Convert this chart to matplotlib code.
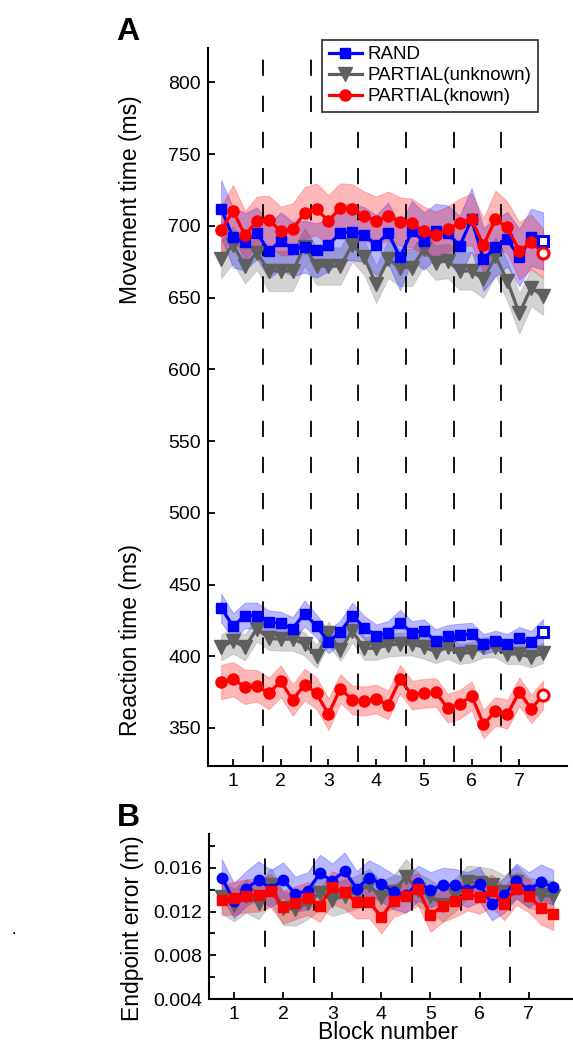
import numpy as np
import matplotlib.pyplot as plt

plt.rcParams['font.family'] = ['Liberation Sans', 'DejaVu Sans']

# 28 trials, 4 per block
trial = np.arange(28)
block_ticks = [1, 5, 9, 13, 17, 21, 25]
block_labels = ['1', '2', '3', '4', '5', '6', '7']
block_edges = [3.5, 7.5, 11.5, 15.5, 19.5, 23.5]

# movement time (ms)
mt_rand = [712, 692, 689, 695, 682.5, 689.5, 684, 685.5, 683, 686.5, 695.3, 696, 694, 686.5,
           695.3, 678, 696.5, 689.5, 696.5, 695.3, 686, 704.6, 676.7, 685, 690.7, 678, 692, 689.5]
mt_unknown = [676.7, 687, 672, 681.4, 668.6, 668.6, 668.6, 685.5, 672, 672, 672, 687, 678, 659.3,
              676.7, 671, 671, 683.7, 674.4, 675.6, 668.6, 668.6, 662.8, 679, 661.6, 639, 657, 651]
mt_known = [697, 710.5, 693.5, 703.5, 704, 696.5, 697.7, 709, 711.6, 703.5, 712.8, 712, 707, 703.5,
            707, 703, 702, 696.5, 694, 697.7, 702, 704.6, 686.5, 704.6, 699, 682.5, 689, 681]
mt_rand_se = [20, 21, 20, 18, 19, 20, 19, 18, 19, 18, 19, 20, 19, 21,
              21, 23, 21, 20, 19, 19, 21, 22, 22, 20, 19, 20, 20, 20]
mt_unknown_se = [13, 13, 12, 12, 14, 14, 14, 13, 13, 13, 13, 12, 12, 13,
                 13, 13, 13, 12, 12, 12, 13, 13, 13, 13, 14, 14, 13, 13]
mt_known_se = [17, 18, 17, 17, 17, 17, 18, 18, 18, 18, 17, 17, 17, 17,
               17, 17, 17, 17, 16, 16, 17, 18, 19, 20, 18, 20, 19, 17]

# reaction time (ms)
rt_rand = [433.7, 421, 428.4, 428.4, 423.9, 423, 419.3, 429.8, 421, 410, 417, 428.4, 420, 414.2,
           416.5, 423.4, 416.5, 417.7, 410.8, 413.8, 414.7, 415.4, 408.5, 410.8, 408.5, 412.4, 409.6, 417]
rt_unknown = [406.2, 410.8, 406.2, 419.3, 412.4, 411.9, 411.9, 408.5, 400, 416, 404.6, 417.7, 405.5, 405.5,
              407.8, 408.5, 408.5, 406.2, 403.2, 406.2, 401.6, 402.8, 406.2, 406.2, 401.6, 401.6, 399.3, 402.3]
rt_known = [382.1, 384, 378.7, 379.4, 374.1, 382.6, 369.5, 380.3, 374.1, 359.6, 377.5, 369.5, 368.8, 370.2,
            366, 384, 373, 374.1, 374.8, 363.8, 366.5, 372.5, 352.7, 361.5, 359.6, 375.2, 363.3, 373]
rt_rand_se = [10, 9, 9, 9, 8, 8, 8, 9, 8, 8, 8, 9, 8, 8,
              8, 9, 8, 8, 8, 8, 8, 8, 7, 7, 7, 8, 8, 9]
rt_unknown_se = [9, 9, 9, 9, 8, 8, 8, 8, 8, 8, 8, 8, 8, 8,
                 8, 8, 8, 8, 8, 8, 7, 7, 7, 7, 7, 7, 7, 7]
rt_known_se = [12, 12, 12, 11, 11, 11, 11, 11, 11, 11, 10, 10, 10, 10,
               10, 10, 10, 10, 10, 10, 10, 10, 10, 10, 10, 10, 10, 10]

# endpoint error (m)
ee_rand = [0.0151, 0.0130, 0.0141, 0.0149, 0.0141, 0.0149, 0.0136, 0.0139, 0.0155, 0.0148, 0.0157, 0.0141, 0.0151, 0.0145,
           0.0138, 0.0135, 0.0146, 0.0140, 0.0144, 0.0144, 0.0140, 0.0145, 0.0127, 0.0135, 0.0148, 0.0140, 0.0147, 0.0142]
ee_unknown = [0.0133, 0.0126, 0.0134, 0.0128, 0.0144, 0.0123, 0.0122, 0.0128, 0.0137, 0.0131, 0.0134, 0.0138, 0.0144, 0.0133,
              0.0138, 0.0152, 0.0140, 0.0134, 0.0126, 0.0135, 0.0147, 0.0146, 0.0144, 0.0138, 0.0147, 0.0137, 0.0135, 0.0134]
ee_known = [0.0131, 0.0132, 0.01345, 0.0135, 0.0139, 0.0124, 0.0128, 0.0132, 0.01255, 0.0142, 0.01375, 0.01285, 0.0129, 0.0115,
            0.0130, 0.01345, 0.01405, 0.01165, 0.01255, 0.0130, 0.0136, 0.0133, 0.0139, 0.0127, 0.0141, 0.01345, 0.0123, 0.0118]
ee_rand_se = [0.0017, 0.0016, 0.0016, 0.0017, 0.0017, 0.0016, 0.0016, 0.0017, 0.0017, 0.0016, 0.0017, 0.0016, 0.0016, 0.0016,
              0.0016, 0.0016, 0.0016, 0.0016, 0.0016, 0.0015, 0.0016, 0.0016, 0.0015, 0.0016, 0.0016, 0.0016, 0.0016, 0.0016]
ee_unknown_se = [0.0015, 0.0015, 0.0015, 0.0015, 0.0016, 0.0015, 0.0015, 0.0015, 0.0015, 0.0015, 0.0015, 0.0015, 0.0015, 0.0015,
                 0.0015, 0.0016, 0.0015, 0.0015, 0.0015, 0.0015, 0.0015, 0.0015, 0.0015, 0.0015, 0.0015, 0.0014, 0.0014, 0.0014]
ee_known_se = [0.0014, 0.0015, 0.0015, 0.0015, 0.0015, 0.0015, 0.0015, 0.0015, 0.0015, 0.0015, 0.0015, 0.0015, 0.0015, 0.0015,
               0.0015, 0.0015, 0.0015, 0.0015, 0.0015, 0.0015, 0.0015, 0.0015, 0.0015, 0.0015, 0.0015, 0.0015, 0.0015, 0.0015]

BLUE = '#0000ff'
GRAY = '#5f5f5f'
RED = '#ff0000'
styles = {
    'RAND': dict(color=BLUE, band=(0, 0, 1), alpha=0.28),
    'PARTIAL(unknown)': dict(color=GRAY, band=(0.55, 0.55, 0.55), alpha=0.38),
    'PARTIAL(known)': dict(color=RED, band=(1, 0, 0), alpha=0.28),
}


def band_line(ax, y, se, name, marker, ms, label=None, hollow_end=False):
    st = styles[name]
    y = np.array(y)
    se = np.array(se)
    ax.fill_between(trial, y - se, y + se, facecolor=st['band'] + (st['alpha'],),
                    edgecolor=st['band'] + (st['alpha'] * 0.8,), linewidth=0.8, zorder=1)
    h = ax.plot(trial, y, '-', marker=marker, color=st['color'], lw=2.3, ms=ms,
                label=label, zorder=3)[0]
    if hollow_end:
        # last marker is drawn open in the original
        ax.plot(trial[-1:], y[-1:], marker=marker, ms=ms, mfc='white', mec=st['color'],
                mew=2.2, ls='none', zorder=4)
    return h


def style_axes(ax):
    for s in ['top', 'right']:
        ax.spines[s].set_visible(False)
    for s in ['left', 'bottom']:
        ax.spines[s].set_linewidth(1.5)
    ax.tick_params(direction='in', length=5, width=1.3, labelsize=14, pad=5)
    ax.tick_params(which='minor', direction='in', length=4, width=1.3)
    ax.set_xticks(block_ticks)
    ax.set_xticklabels(block_labels)


fig = plt.figure(figsize=(5.73, 10.45), dpi=100)

# panel A
axA = fig.add_axes([0.363, 0.267, 0.6265, 0.687])
for xe in block_edges:
    axA.plot([xe, xe], [326, 822], color='black', lw=1.3, dashes=(9, 11), zorder=2)
hu = band_line(axA, mt_unknown, mt_unknown_se, 'PARTIAL(unknown)', 'v', 10.5, 'PARTIAL(unknown)')
hr = band_line(axA, mt_rand, mt_rand_se, 'RAND', 's', 7, 'RAND', hollow_end=True)
hk = band_line(axA, mt_known, mt_known_se, 'PARTIAL(known)', 'o', 8, 'PARTIAL(known)', hollow_end=True)
band_line(axA, rt_unknown, rt_unknown_se, 'PARTIAL(unknown)', 'v', 10.5)
band_line(axA, rt_rand, rt_rand_se, 'RAND', 's', 7, hollow_end=True)
band_line(axA, rt_known, rt_known_se, 'PARTIAL(known)', 'o', 8, hollow_end=True)
axA.set_xlim(-1.1, 29.0)
axA.set_ylim(323.5, 824)
axA.set_yticks(np.arange(350, 801, 50))
style_axes(axA)
leg = axA.legend(handles=[hr, hu, hk], loc='upper left', bbox_to_anchor=(0.562, 0.962),
                 bbox_transform=fig.transFigure, fontsize=13.5, frameon=True, fancybox=False,
                 borderaxespad=0, handlelength=1.8, borderpad=0.35, labelspacing=0.2,
                 handletextpad=0.3, framealpha=1)
leg.get_frame().set_edgecolor('#3a3a3a')
leg.get_frame().set_linewidth(1.3)

# panel B
axB = fig.add_axes([0.3648, 0.044, 0.633, 0.158])
for xe in block_edges:
    axB.plot([xe, xe], [0.0055, 0.0185], color='black', lw=1.3, dashes=(9, 11), zorder=2)
band_line(axB, ee_unknown, ee_unknown_se, 'PARTIAL(unknown)', 'v', 10.5)
band_line(axB, ee_rand, ee_rand_se, 'RAND', 'o', 7.5)
band_line(axB, ee_known, ee_known_se, 'PARTIAL(known)', 's', 7)
axB.set_xlim(-1.03, 28.5)
axB.set_ylim(0.004, 0.0191)
axB.set_yticks([0.004, 0.008, 0.012, 0.016])
axB.set_yticklabels(['0.004', '0.008', '0.012', '0.016'])
axB.set_yticks([0.006, 0.010, 0.014, 0.018], minor=True)
style_axes(axB)

# labels
fig.text(130 / 573, 1 - 200 / 1045, 'Movement time (ms)', rotation=90, fontsize=16.5,
         ha='center', va='center')
fig.text(130 / 573, 1 - 640 / 1045, 'Reaction time (ms)', rotation=90, fontsize=16.5,
         ha='center', va='center')
fig.text(132 / 573, 1 - 928 / 1045, 'Endpoint error (m)', rotation=90, fontsize=16.5,
         ha='center', va='center')
fig.text(388 / 573, 1 - 1021 / 1045, 'Block number', fontsize=16.5, ha='center', va='top')
fig.text(128 / 573, 1 - 32 / 1045, 'A', fontsize=23, fontweight='bold', ha='center', va='center')
fig.text(128 / 573, 1 - 818 / 1045, 'B', fontsize=23, fontweight='bold', ha='center', va='center')
fig.text(14 / 573, 1 - 930 / 1045, '.', fontsize=12, ha='center', va='center')

fig.savefig('out.png', dpi=100)
